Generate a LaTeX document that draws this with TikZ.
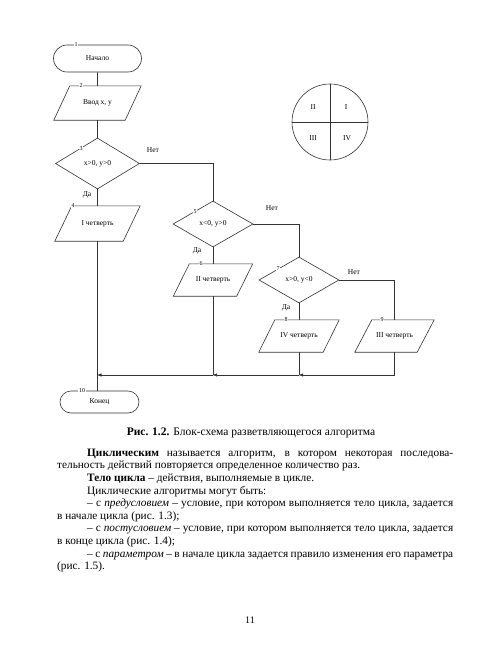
\documentclass[tikz,border=0pt]{standalone}
\usepackage{fontspec}
\setmainfont{Liberation Serif}
\usetikzlibrary{arrows.meta,shapes.geometric,shapes.misc,calc}
\begin{document}
\begin{tikzpicture}[x=1pt,y=-1pt,
  line/.style={line width=0.6pt, draw=black!80},
  term/.style={rounded rectangle, draw=black!80, line width=0.6pt, inner sep=0pt, font=\fontsize{7.5}{9}\selectfont},
  cond/.style={diamond, draw=black!80, line width=0.6pt, inner sep=0pt, font=\fontsize{7.5}{9}\selectfont},
  box/.style={rectangle, inner sep=0pt, font=\fontsize{7.5}{9}\selectfont},
  num/.style={fill=white, inner sep=0.8pt, font=\fontsize{6}{7}\selectfont},
  lbl/.style={inner sep=0pt, font=\fontsize{7.5}{9}\selectfont},
  arr/.style={line, -{Triangle[length=4pt,width=3pt]}},
  body/.style={anchor=base west, inner sep=0pt, font=\fontsize{11.3}{12.6}\selectfont}
]
\fill[white] (0,0) rectangle (500,653);
\useasboundingbox (0,0) rectangle (500,653);

% blocks
\node[term, minimum width=88, minimum height=27] (t1) at (97.5,58.5) {Начало};
\node[box, minimum width=71, minimum height=34] (p2) at (97.5,103) {Ввод x, y};
\node[cond, minimum width=84, minimum height=51] (d3) at (97.5,163.5) {x>0, y>0};
\node[box, minimum width=68, minimum height=35] (p4) at (97.5,223.5) {I четверть};
\node[cond, minimum width=80, minimum height=46] (d5) at (213,224) {x<0, y>0};
\node[box, minimum width=63, minimum height=32] (p6) at (213,280) {II четверть};
\node[cond, minimum width=80, minimum height=46] (d7) at (299,280) {x>0, y<0};
\node[box, minimum width=64, minimum height=32] (p8) at (299,336) {IV четверть};
\node[box, minimum width=62, minimum height=32] (p9) at (394.5,336) {III четверть};
\node[term, minimum width=79, minimum height=22] (t10) at (99.5,402) {Конец};

\foreach \n/\s in {p2/8,p4/8.5,p6/8,p8/8,p9/8.5}
  \draw[line] ([xshift=\s pt]\n.north west) -- ([xshift=\s pt]\n.north east)
     -- ([xshift=-\s pt]\n.south east) -- ([xshift=-\s pt]\n.south west) -- cycle;

% merge points
\coordinate (m8) at (299,375);
\coordinate (m6) at (213,375);
\coordinate (m4) at (97.5,375);

% connectors
\draw[line] (t1) -- (p2);
\draw[line] (p2) -- (d3);
\draw[line] (d3) -- (p4);
\draw[line] (d3.east) -| (d5.north);
\draw[line] (d5) -- (p6);
\draw[line] (d5.east) -| (d7.north);
\draw[line] (d7) -- (p8);
\draw[line] (d7.east) -| (p9.north);
\draw[arr] (p9.south) |- (m8);
\draw[line] (p8.south) -- (m8);
\draw[arr] (m8) -- (m6);
\draw[line] (p6.south) -- (m6);
\draw[arr] (m6) -- (m4);
\draw[line] (p4.south) -- (p4.south |- t10.north);

% numbers
\node[num] (n1) at (76,45) {1};
\node[num] (n2) at (81,86) {2};
\node[num] (n3) at (81,148.5) {3};
\node[num] (n4) at (73,206) {4};
\node[num] (n5) at (195,211.5) {5};
\node[num] (n6) at (201,264) {6};
\node[num] (n7) at (278,269) {7};
\node[num] (n8) at (286,320) {8};
\node[num] (n9) at (382,320) {9};
\node[num] (n10) at (82,391) {10};

% yes / no
\node[lbl] (y3) at (87,195) {Да};
\node[lbl] (no3) at (153,150) {Нет};
\node[lbl] (y5) at (197,251) {Да};
\node[lbl] (no5) at (272,208) {Нет};
\node[lbl] (y7) at (286,308) {Да};
\node[lbl] (no7) at (354,272) {Нет};

% quadrant circle
\node[circle, draw=black!80, line width=0.6pt, minimum size=76, inner sep=0pt] (q) at (330,122) {};
\draw[line] (q.west) -- (q.east);
\draw[line] (q.north) -- (q.south);
\node[lbl] (q2) at (313,107) {II};
\node[lbl] (q1) at (346,107) {I};
\node[lbl] (q3) at (313,138) {III};
\node[lbl] (q4) at (347,138) {IV};

% caption
\node[anchor=base, inner sep=0pt, font=\fontsize{11.5}{12.6}\selectfont] (cap) at (251,435.5)
  {\textbf{Рис. 1.2.} Блок-схема разветвляющегося алгоритма};

% body text
\node[body] (b1) at (87,456.3) {\makebox[366pt][s]{\textbf{Циклическим} называется алгоритм, в котором некоторая последова-}};
\node[body] (b2) at (57,468.9) {тельность действий повторяется определенное количество раз.};
\node[body] (b3) at (87,481.5) {\textbf{Тело цикла} – действия, выполняемые в цикле.};
\node[body] (b4) at (87,494.1) {Циклические алгоритмы могут быть:};
\node[body] (b5) at (87,506.7) {\makebox[366pt][s]{– с \textit{предусловием} – условие, при котором выполняется тело цикла, задается}};
\node[body] (b6) at (57,519.3) {в начале цикла (рис. 1.3);};
\node[body] (b7) at (87,531.9) {\makebox[366pt][s]{– с \textit{постусловием} – условие, при котором выполняется тело цикла, задается}};
\node[body] (b8) at (57,544.5) {в конце цикла (рис. 1.4);};
\node[body] (b9) at (87,557.1) {\makebox[366pt][s]{– с \textit{параметром} – в начале цикла задается правило изменения его параметра}};
\node[body] (b10) at (57,569.7) {(рис. 1.5).};

\node[inner sep=0pt, font=\fontsize{10}{12}\selectfont] (pg) at (250,620) {11};
\end{tikzpicture}
\end{document}
